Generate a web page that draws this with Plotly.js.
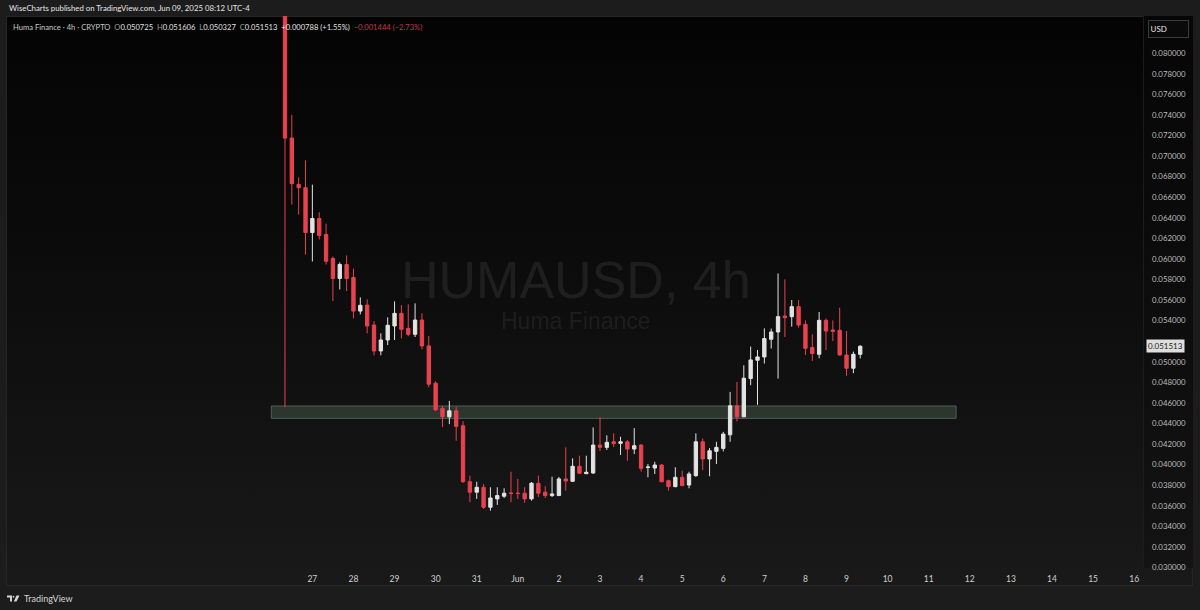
<!DOCTYPE html>
<html>
<head>
<meta charset="utf-8">
<script src="https://cdn.plot.ly/plotly-3.0.1.min.js"></script>
<style>
  html, body { margin:0; padding:0; width:1200px; height:610px; overflow:hidden; background:#1c1c1c; }
  #frame { position:absolute; left:6px; top:16px; width:1187px; height:570px;
           background:linear-gradient(to bottom, #040404 0%, #0b0b0b 40%, #191919 100%);
           border:1px solid #262626; box-sizing:border-box; }
  #axisbg { position:absolute; left:1143px; top:16px; width:50px; height:552px; background:linear-gradient(to bottom,#060606 0%,#131313 100%); border-left:1px solid #1c1c1c; box-sizing:border-box;}
  #chart { position:absolute; left:0; top:0; width:1200px; height:610px; }
</style>
</head>
<body>
<div id="frame"></div>
<div id="axisbg"></div>
<div id="chart"></div>
<script>
// ---- data (4h candles, UTC-4) ----
const startTime = '2025-05-26 08:00';
const barHours = 4;
const opens = [0.0860,0.07175,0.06725,0.06693,0.06257,0.06393,0.06237,0.06004,0.05810,0.05946,
  0.05820,0.05493,0.05551,0.05357,0.05105,0.05212,0.05348,0.05471,0.05325,0.05267,
  0.05406,0.05154,0.04792,0.04546,0.04465,0.04523,0.04378,0.03834,0.03732,0.03780,
  0.03586,0.03667,0.03693,0.03725,0.03722,0.03722,0.03667,0.03819,0.03732,0.03699,
  0.03699,0.03861,0.03838,0.03984,0.03912,0.03919,0.04190,0.04168,0.04222,0.04207,
  0.04222,0.04152,0.04190,0.03972,0.03967,0.03996,0.03844,0.03786,0.03877,0.03802,
  0.03893,0.04222,0.04055,0.04129,0.04158,0.04290,0.04572,0.04465,0.04837,0.05015,
  0.05047,0.05219,0.05290,0.05445,0.05439,0.05536,0.05364,0.05138,0.05073,0.05403,
  0.05309,0.05306,0.05066,0.04937,0.050725];
const highs = [0.0860,0.07401,0.06793,0.06958,0.06722,0.06454,0.06344,0.06024,0.05966,0.06034,
  0.05907,0.05626,0.05607,0.05396,0.05277,0.05432,0.05587,0.05551,0.05558,0.05568,
  0.05471,0.05251,0.04811,0.04569,0.04620,0.04559,0.04423,0.03893,0.03834,0.03812,
  0.03780,0.03780,0.03770,0.03931,0.03861,0.03780,0.03831,0.03893,0.03790,0.03883,
  0.03880,0.04168,0.04061,0.04087,0.04087,0.04362,0.04462,0.04285,0.04305,0.04271,
  0.04239,0.04355,0.04200,0.04006,0.04028,0.04006,0.03854,0.03974,0.03941,0.03931,
  0.04304,0.04255,0.04161,0.04222,0.04319,0.04707,0.04804,0.04966,0.05148,0.05115,
  0.05325,0.05323,0.05859,0.05801,0.05600,0.05600,0.05403,0.05267,0.05484,0.05420,
  0.05403,0.05526,0.05299,0.05099,0.051606];
const lows = [0.04559,0.06528,0.06431,0.06043,0.05975,0.06189,0.05946,0.05590,0.05704,0.05687,
  0.05422,0.05461,0.05277,0.05063,0.05063,0.05163,0.05212,0.05228,0.05248,0.05241,
  0.05122,0.04753,0.04520,0.04365,0.04394,0.04232,0.03822,0.03635,0.03667,0.03570,
  0.03553,0.03608,0.03676,0.03635,0.03667,0.03628,0.03650,0.03686,0.03676,0.03686,
  0.03696,0.03747,0.03831,0.03909,0.03909,0.03909,0.04132,0.04142,0.04171,0.04093,
  0.04038,0.04103,0.03931,0.03877,0.03909,0.03829,0.03747,0.03780,0.03790,0.03770,
  0.03880,0.03948,0.03887,0.04006,0.04129,0.04222,0.04420,0.04462,0.04772,0.04581,
  0.04983,0.05129,0.04837,0.05241,0.05342,0.05332,0.05066,0.05008,0.05034,0.05115,
  0.05202,0.05063,0.04863,0.04889,0.050327];
const closes = [0.07175,0.06732,0.06693,0.06257,0.06393,0.06228,0.05978,0.05810,0.05946,0.05810,
  0.05493,0.05549,0.05348,0.05105,0.05212,0.05355,0.05471,0.05316,0.05267,0.05406,
  0.05154,0.04782,0.04533,0.04465,0.04523,0.04372,0.03834,0.03732,0.03780,0.03586,
  0.03676,0.03699,0.03722,0.03719,0.03720,0.03667,0.03819,0.03722,0.03699,0.03715,
  0.03861,0.03841,0.03984,0.03916,0.03926,0.04190,0.04168,0.04217,0.04205,0.04222,
  0.04152,0.04184,0.03964,0.03977,0.03996,0.03834,0.03786,0.03877,0.03796,0.03909,
  0.04222,0.04055,0.04135,0.04168,0.04297,0.04572,0.04465,0.04840,0.05018,0.05047,
  0.05226,0.05290,0.05439,0.05429,0.05536,0.05357,0.05131,0.05080,0.05403,0.05299,
  0.05296,0.05066,0.04937,0.05073,0.051513];
const zoneLow = 0.0445, zoneHigh = 0.0457;
const zoneStart = '2025-05-26 00:00', zoneEnd = '2025-06-11 16:00';
const dayTickVals = ['2025-05-27','2025-05-28','2025-05-29','2025-05-30','2025-05-31','2025-06-01','2025-06-02','2025-06-03','2025-06-04','2025-06-05','2025-06-06','2025-06-07','2025-06-08','2025-06-09','2025-06-10','2025-06-11','2025-06-12','2025-06-13','2025-06-14','2025-06-15','2025-06-16'];
const dayTickText = ['27','28','29','30','31','Jun','2','3','4','5','6','7','8','9','10','11','12','13','14','15','16'];
const priceTicks = [0.030,0.032,0.034,0.036,0.038,0.040,0.042,0.044,0.046,0.048,0.050,0.054,0.056,0.058,0.060,0.062,0.064,0.066,0.068,0.070,0.072,0.074,0.076,0.078,0.080];
const lastPrice = '0.051513';

// time axis of bars
const t0 = Date.parse(startTime.replace(' ','T') + ':00Z');
const times = opens.map((_, i) => new Date(t0 + i*barHours*3600000).toISOString().slice(0,16).replace('T',' '));

const RED = '#e8424f', WHITE = '#e3e3e3';
const W = 1200, H = 610, L = 6, R = 57, T = 16, B = 42;
const px = x => (x - L) / (W - L - R);
const py = y => (H - B - y) / (H - T - B);

const trace = {
  type:'candlestick', x: times, open: opens, high: highs, low: lows, close: closes,
  increasing:{line:{color:WHITE, width:1}, fillcolor:WHITE},
  decreasing:{line:{color:RED, width:1}, fillcolor:RED},
  whiskerwidth:0, hoverinfo:'none', showlegend:false
};

const font = 'Lato, "Open Sans", "Noto Sans", sans-serif';
const annotations = [
  {xref:'paper', yref:'paper', x:px(576), y:py(280), yanchor:'middle', text:'HUMAUSD, 4h', showarrow:false,
   font:{family:'"Liberation Sans", Arial, sans-serif', size:52, color:'rgba(255,255,255,0.075)'}},
  {xref:'paper', yref:'paper', x:px(576), y:py(321), yanchor:'middle', text:'Huma Finance', showarrow:false,
   font:{family:'"Liberation Sans", Arial, sans-serif', size:23, color:'rgba(255,255,255,0.075)'}},
  {xref:'paper', yref:'paper', x:px(7), y:py(8), xanchor:'left', yanchor:'middle', text:'WiseCharts published on TradingView.com, Jun 09, 2025 08:12 UTC-4', showarrow:false,
   font:{family:font, size:7.8, color:'#e6e6e6'}},
  {xref:'paper', yref:'paper', x:px(11), y:py(27), xanchor:'left', yanchor:'middle', showarrow:false,
   text:'<span style="color:#c8c8c8">Huma Finance · 4h · CRYPTO</span>  <span style="color:#9a9a9a">O</span>0.050725  <span style="color:#9a9a9a">H</span>0.051606  <span style="color:#9a9a9a">L</span>0.050327  <span style="color:#9a9a9a">C</span>0.051513  +0.000788 (+1.55%)  <span style="color:#c0394a">−0.001444 (−2.73%)</span>',
   font:{family:font, size:7.6, color:'#e0e0e0'}},
  {xref:'paper', yref:'paper', x:px(1148), y:py(28.5), xanchor:'left', yanchor:'middle', text:'USD', showarrow:false,
   width:36, height:13, align:'left', bgcolor:'#0a0a0a', bordercolor:'#3a3a3a', borderwidth:1, borderpad:1.5,
   font:{family:font, size:8, color:'#e6e6e6'}},
  {xref:'paper', yref:'y', x:px(1146), y:closes[closes.length-1], xanchor:'left', yanchor:'middle', text:lastPrice, showarrow:false,
   bgcolor:'#dedede', borderpad:1, font:{family:font, size:8, color:'#1a1a1a'}},
  {xref:'paper', yref:'paper', x:px(22), y:py(598.5), xanchor:'left', yanchor:'middle', text:'TradingView', showarrow:false,
   font:{family:font, size:9, color:'#d6d6d6'}}
];

const shapes = [
  {type:'rect', xref:'x', yref:'y', x0:zoneStart, x1:zoneEnd, y0:zoneLow, y1:zoneHigh,
   fillcolor:'rgba(80,104,88,0.42)', line:{color:'#4e6054', width:1}, layer:'below'},
  // TradingView logo (paper coords)
  {type:'path', xref:'paper', yref:'paper', fillcolor:'#d6d6d6', line:{width:0},
   path:`M ${px(7)} ${py(595.5)} L ${px(12)} ${py(595.5)} L ${px(12)} ${py(601.5)} L ${px(10)} ${py(601.5)} L ${px(10)} ${py(597.5)} L ${px(7)} ${py(597.5)} Z`},
  {type:'circle', xref:'paper', yref:'paper', fillcolor:'#d6d6d6', line:{width:0},
   x0:px(12.6), x1:px(14.4), y0:py(597.6), y1:py(595.8)},
  {type:'path', xref:'paper', yref:'paper', fillcolor:'#d6d6d6', line:{width:0},
   path:`M ${px(16.5)} ${py(595.5)} L ${px(19.5)} ${py(595.5)} L ${px(16.5)} ${py(601.5)} L ${px(13.8)} ${py(601.5)} Z`}
];

const layout = {
  width:W, height:H, margin:{l:L, r:R, t:T, b:B},
  paper_bgcolor:'rgba(0,0,0,0)', plot_bgcolor:'rgba(0,0,0,0)',
  showlegend:false, dragmode:false,
  xaxis:{type:'date', range:['2025-05-19 13:03','2025-06-16 05:10'], rangeslider:{visible:false},
         tickvals:dayTickVals, ticktext:dayTickText, showgrid:false, zeroline:false, showline:false,
         ticks:'', ticklabelstandoff:4, tickfont:{family:font, size:8.5, color:'#cfcfcf'}, fixedrange:true},
  yaxis:{side:'right', range:[0.02995, 0.08362], tickvals:priceTicks, tickformat:'.6f',
         showgrid:false, zeroline:false, showline:false, ticks:'', ticklabelstandoff:8,
         tickfont:{family:font, size:7.8, color:'#bdbdbd'}, fixedrange:true},
  annotations, shapes
};

Plotly.newPlot('chart', [trace], layout, {displayModeBar:false, staticPlot:true});
</script>
</body>
</html>
